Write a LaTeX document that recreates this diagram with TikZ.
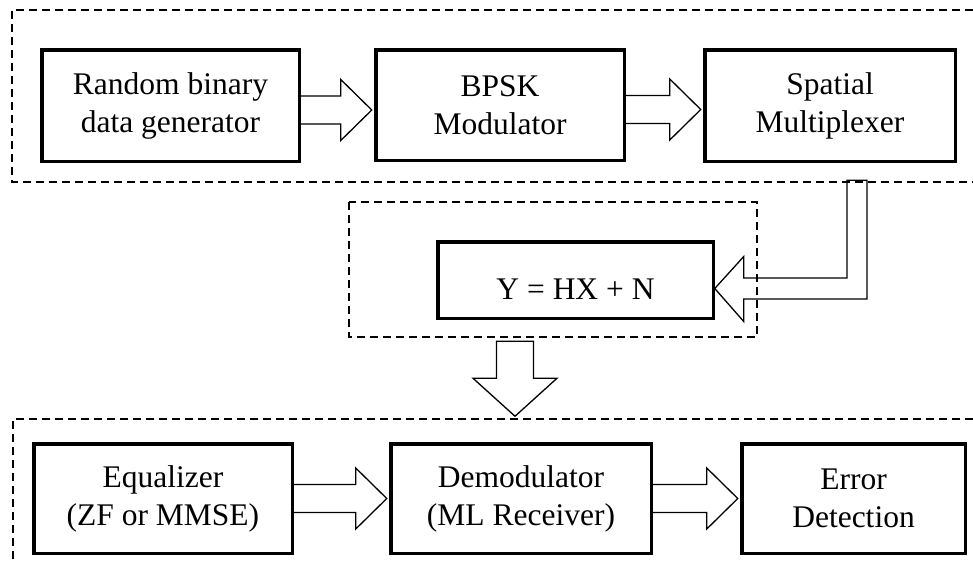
\documentclass[tikz,border=0pt]{standalone}
\usepackage{fontspec}
\setmainfont{Liberation Serif}
\usetikzlibrary{calc}

% hollow block arrow from the east side of #1 to the west side of #2,
% shifted vertically by #3
\newcommand\fatarrow[3]{%
  \draw[fat] let \p1=($(#1.east)+(0,#3)$), \p2=(#2.west) in
    (\x1,\y1+14pt) -- (\x2-35pt,\y1+14pt) -- (\x2-35pt,\y1+30.5pt) --
    (\x2-4pt,\y1) -- (\x2-35pt,\y1-30.5pt) -- (\x2-35pt,\y1-14pt) -- (\x1,\y1-14pt);}

\begin{document}
\begin{tikzpicture}[x=1pt,y=-1pt,
  font=\fontsize{31.5}{38}\selectfont,
  blk/.style={draw, line width=3.5pt, fill=white, align=center,
              inner sep=0pt, outer sep=0pt},
  group/.style={draw, line width=1.5pt, dash pattern=on 8pt off 5pt},
  fat/.style={draw, line width=1.3pt, line join=miter}]
\useasboundingbox (0,0) rectangle (973,563);

% dashed groupings
\draw[group] (973,10) -- (12,10) -- (12,182) -- (973,182);
\draw[group] (349,202) rectangle (757,337);
\draw[group] (973,419) -- (13,419) -- (13,563);

% transmitter chain
\node[blk, minimum width=257.5pt, minimum height=111.5pt] (gen)  at (170.5,105.5) {Random binary\\data generator};
\node[blk, minimum width=248.5pt, minimum height=110.5pt] (bpsk) at (500,105)    {BPSK\\Modulator};
\node[blk, minimum width=250.5pt, minimum height=111.5pt] (smux) at (830,105.5)  {Spatial\\Multiplexer};

% channel
\node[blk, minimum width=275.5pt, minimum height=76.5pt] (chan) at (575.5,280) {\mbox{}\\Y = HX + N};

% receiver chain
\node[blk, minimum width=258.5pt, minimum height=109.5pt] (eq)  at (163,498.5)   {Equalizer\\(ZF or MMSE)};
\node[blk, minimum width=260.5pt, minimum height=109.5pt] (dem) at (521,498.5)   {Demodulator\\(ML Receiver)};
\node[blk, minimum width=223.5pt, minimum height=109.5pt] (err) at (853.5,498.5) {Error\\Detection};

% horizontal block arrows
\fatarrow{gen}{bpsk}{4.5}
\fatarrow{bpsk}{smux}{4.5}
\fatarrow{eq}{dem}{0}
\fatarrow{dem}{err}{0}

% bent arrow: multiplexer output into the channel
\coordinate (tap) at ($(smux.south)+(27,19)$);
\coordinate (tip) at ($(chan.east)+(1.5,8.5)$);
\draw[fat] ($(tap)+(-10,0)$) -- ($(tap)+(10,0)$) -- ($(tap|-tip)+(10,10.5)$) --
  ($(tip)+(29,10.5)$) -- ($(tip)+(29,33)$) -- (tip) -- ($(tip)+(29,-32)$) --
  ($(tip)+(29,-10.5)$) -- ($(tap|-tip)+(-10,-10.5)$) -- cycle;

% down arrow: channel output into the receiver
\coordinate (dtip) at ($(chan.south)+(-60.5,98)$);
\draw[fat] ($(dtip)+(-18.5,-75)$) -- ($(dtip)+(18.5,-75)$) -- ($(dtip)+(18.5,-38)$) --
  ($(dtip)+(42,-38)$) -- (dtip) -- ($(dtip)+(-42,-38)$) -- ($(dtip)+(-18.5,-38)$) -- cycle;
\end{tikzpicture}
\end{document}
